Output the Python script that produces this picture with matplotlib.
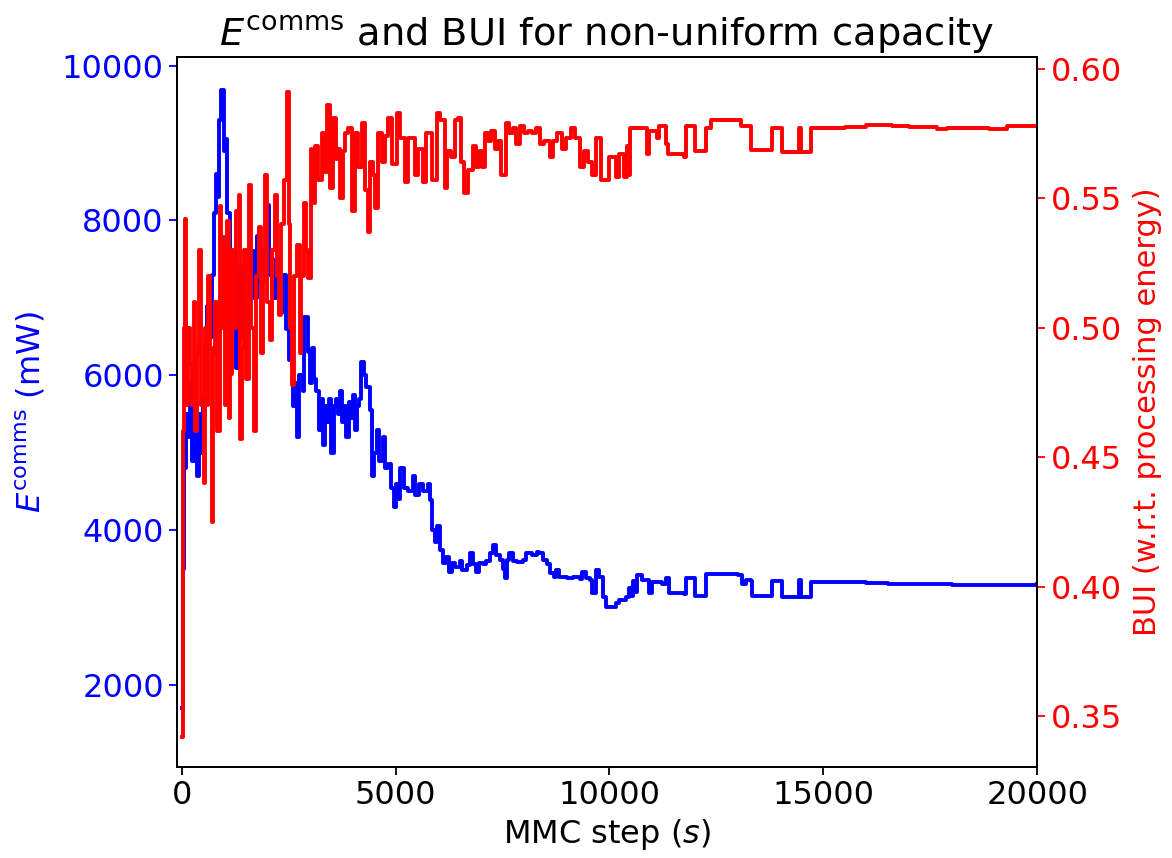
import numpy as np
import matplotlib
matplotlib.use("Agg")
import matplotlib.pyplot as plt

# E^comms (mW)
e_step = [0, 30, 60, 100, 150, 200, 250, 300, 350, 400, 450, 500, 550, 600, 650, 700, 750, 800,
          850, 880, 930, 980, 1020, 1070, 1120, 1170, 1220, 1270, 1320, 1370, 1420, 1470, 1520,
          1600, 1680, 1750, 1830, 1900, 1990, 2050, 2120, 2200, 2280, 2350, 2430, 2520, 2600,
          2650, 2700, 2750, 2830, 2870, 2950, 3000, 3050, 3100, 3150, 3200, 3250, 3300, 3350,
          3400, 3450, 3500, 3550, 3600, 3650, 3700, 3750, 3800, 3850, 3900, 3950, 4000, 4050,
          4100, 4150, 4200, 4260, 4320, 4400, 4450, 4500, 4560, 4620, 4700, 4760, 4820, 4900,
          4960, 5000, 5060, 5100, 5200, 5300, 5400, 5450, 5550, 5650, 5750, 5800, 5860, 5920,
          5980, 6030, 6100, 6190, 6260, 6330, 6400, 6500, 6560, 6660, 6730, 6800, 6890, 6950,
          7050, 7120, 7200, 7270, 7350, 7430, 7500, 7550, 7600, 7660, 7750, 7850, 7970, 8060,
          8200, 8300, 8360, 8450, 8530, 8600, 8700, 8760, 8830, 9000, 9150, 9300, 9370, 9450,
          9550, 9600, 9690, 9760, 9850, 9930, 10040, 10150, 10230, 10390, 10450, 10500, 10540,
          10600, 10650, 10750, 10930, 11000, 11240, 11330, 11400, 11750, 11800, 11960, 11990,
          12220, 12260, 12600, 13000, 13100, 13200, 13300, 13340, 13780, 13810, 14030, 14040,
          14420, 14440, 14480, 14690, 14720, 16000, 16500, 17000, 18000, 19000, 20000]
e_comms = [1700, 3500, 4800, 5500, 5200, 5900, 4900, 5600, 4700, 5500, 5000, 5700, 6400, 6900,
           6500, 7300, 8100, 8600, 8300, 9300, 9690, 8900, 9050, 8100, 7300, 6800, 7600, 6100,
           7000, 7400, 6500, 7200, 6800, 7600, 7000, 7800, 7200, 7600, 8200, 7300, 7000, 7500,
           6800, 7300, 6600, 6200, 5600, 5900, 5200, 6000, 5800, 6750, 6300, 5900, 6350, 5950,
           5800, 5300, 5700, 5100, 5600, 5400, 5700, 5000, 5600, 5700, 5500, 5800, 5400, 5600,
           5200, 5650, 5450, 5750, 5300, 5600, 5700, 6170, 6000, 5850, 5550, 4700, 5000, 5300,
           4900, 5200, 4800, 4850, 4550, 4300, 4600, 4400, 4800, 4550, 4500, 4700, 4450, 4600,
           4500, 4600, 4390, 4000, 3850, 4050, 3750, 3580, 3650, 3460, 3580, 3520, 3600, 3480,
           3550, 3700, 3560, 3460, 3580, 3560, 3600, 3700, 3810, 3680, 3620, 3500, 3380, 3620,
           3700, 3600, 3590, 3620, 3700, 3680, 3720, 3700, 3620, 3560, 3450, 3400, 3490, 3400,
           3380, 3400, 3370, 3460, 3380, 3360, 3190, 3490, 3400, 3140, 3010, 3010, 3060, 3100,
           3140, 3250, 3150, 3350, 3200, 3420, 3360, 3190, 3330, 3300, 3380, 3190, 3180, 3380,
           3380, 3150, 3150, 3440, 3430, 3420, 3300, 3360, 3350, 3150, 3150, 3340, 3340, 3140,
           3140, 3360, 3140, 3140, 3330, 3320, 3300, 3300, 3290, 3290, 3300]

# BUI (w.r.t. processing energy)
b_step = [0, 20, 50, 70, 110, 150, 187, 230, 280, 320, 350, 397, 450, 514, 550, 584, 620, 654,
          700, 740, 780, 830, 888, 930, 970, 1010, 1051, 1098, 1121, 1170, 1220, 1270, 1332,
          1355, 1402, 1450, 1500, 1565, 1620, 1682, 1740, 1799, 1850, 1900, 1939, 2000, 2056,
          2110, 2172, 2220, 2266, 2330, 2383, 2453, 2500, 2540, 2570, 2620, 2686, 2756, 2800,
          2850, 2900, 2943, 3013, 3050, 3107, 3177, 3270, 3320, 3387, 3457, 3527, 3600, 3644,
          3691, 3761, 3820, 3878, 3971, 4041, 4111, 4205, 4275, 4345, 4392, 4462, 4509, 4579,
          4672, 4742, 4812, 4906, 5022, 5100, 5209, 5300, 5443, 5520, 5630, 5700, 5863, 5980,
          6030, 6144, 6200, 6300, 6380, 6450, 6530, 6610, 6700, 6800, 6880, 6960, 7030, 7080,
          7160, 7240, 7320, 7400, 7470, 7590, 7660, 7750, 7820, 7900, 8010, 8100, 8200, 8290,
          8380, 8480, 8600, 8680, 8780, 8880, 8990, 9110, 9200, 9300, 9400, 9500, 9600, 9690,
          9760, 9810, 9930, 10000, 10080, 10160, 10230, 10350, 10400, 10440, 10470, 10860,
          10880, 10930, 11080, 11120, 11170, 11290, 11330, 11360, 11750, 11800, 11960, 11990,
          12220, 12260, 12350, 12380, 13030, 13080, 13300, 13310, 13800, 13810, 14030, 14040,
          14420, 14440, 14480, 14690, 14700, 15500, 16000, 16600, 17000, 17600, 17650, 17870,
          17900, 18800, 18870, 19270, 19300, 20000]
bui = [0.342, 0.46, 0.50, 0.542, 0.47, 0.50, 0.486, 0.47, 0.51, 0.46, 0.49, 0.530, 0.47, 0.440,
       0.50, 0.47, 0.52, 0.492, 0.425, 0.49, 0.51, 0.46, 0.547, 0.50, 0.535, 0.47, 0.541, 0.465,
       0.482, 0.53, 0.50, 0.545, 0.551, 0.457, 0.492, 0.53, 0.48, 0.555, 0.50, 0.460, 0.52,
       0.539, 0.49, 0.53, 0.559, 0.51, 0.495, 0.53, 0.551, 0.52, 0.505, 0.54, 0.557, 0.591,
       0.54, 0.50, 0.478, 0.52, 0.532, 0.490, 0.52, 0.548, 0.53, 0.519, 0.569, 0.548, 0.570,
       0.557, 0.575, 0.560, 0.586, 0.554, 0.581, 0.565, 0.569, 0.550, 0.568, 0.575, 0.577,
       0.545, 0.575, 0.562, 0.579, 0.553, 0.537, 0.564, 0.559, 0.546, 0.575, 0.564, 0.574,
       0.581, 0.563, 0.583, 0.573, 0.556, 0.573, 0.559, 0.569, 0.556, 0.575, 0.557, 0.583,
       0.580, 0.554, 0.568, 0.566, 0.580, 0.581, 0.564, 0.552, 0.561, 0.570, 0.562, 0.568,
       0.562, 0.575, 0.572, 0.576, 0.569, 0.572, 0.559, 0.579, 0.575, 0.577, 0.571, 0.578,
       0.575, 0.576, 0.575, 0.577, 0.571, 0.572, 0.566, 0.572, 0.575, 0.569, 0.573, 0.577,
       0.573, 0.562, 0.568, 0.564, 0.559, 0.573, 0.573, 0.557, 0.557, 0.566, 0.566, 0.558,
       0.567, 0.558, 0.570, 0.559, 0.577, 0.577, 0.567, 0.576, 0.576, 0.573, 0.578, 0.578,
       0.571, 0.567, 0.566, 0.578, 0.578, 0.568, 0.568, 0.577, 0.577, 0.580, 0.580, 0.578,
       0.578, 0.5685, 0.5685, 0.5772, 0.5772, 0.5677, 0.5677, 0.5772, 0.5677, 0.5677, 0.5772,
       0.5776, 0.5782, 0.5778, 0.5776, 0.5776, 0.5767, 0.5767, 0.5772, 0.5772, 0.5767, 0.5767,
       0.5778, 0.5778]

plt.rcParams['font.size'] = 23
plt.rcParams['axes.linewidth'] = 1.3

fig = plt.figure(figsize=(11.72, 8.58), dpi=100)
ax = fig.add_axes([0.151, 0.106, 0.734, 0.828])
ax.plot(e_step, e_comms, color='b', lw=2.8, drawstyle='steps-post')
ax.set_xlim(-110, 20000)
ax.set_ylim(941, 10116)
ax.set_yticks([2000, 4000, 6000, 8000, 10000])
ax.set_xticks([0, 5000, 10000, 15000, 20000])
ax.set_xlabel('MMC step ($s$)', labelpad=4)
ax.set_ylabel(r'$E^{\mathrm{comms}}$ (mW)', color='b', labelpad=10)
ax.tick_params(axis='both', length=6, width=1.3)
ax.tick_params(axis='y', colors='b')

ax2 = ax.twinx()
ax2.plot(b_step, bui, color='r', lw=2.8, drawstyle='steps-post')
ax2.set_ylim(0.3303, 0.6046)
ax2.set_yticks([0.35, 0.40, 0.45, 0.50, 0.55, 0.60])
ax2.set_yticklabels(['0.35', '0.40', '0.45', '0.50', '0.55', '0.60'])
ax2.set_ylabel('BUI (w.r.t. processing energy)', color='r', fontsize=22, labelpad=8)
ax2.tick_params(axis='y', colors='r', length=6, width=1.3)

ax.set_title(r'$E^{\mathrm{comms}}$ and BUI for non-uniform capacity', pad=8)

fig.savefig('out.png', dpi=100)
